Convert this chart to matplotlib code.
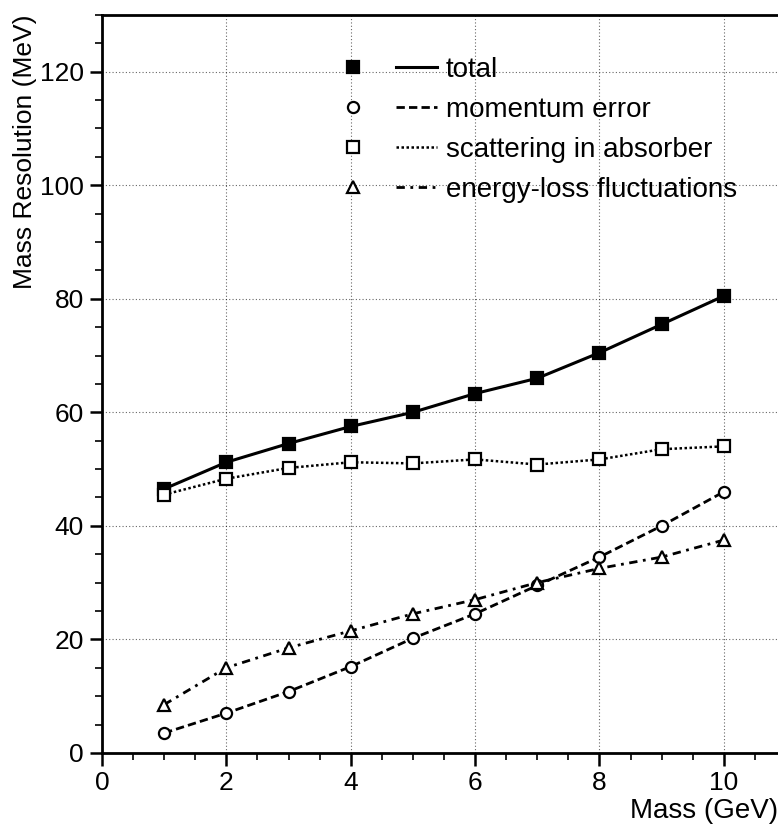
import matplotlib.pyplot as plt
import numpy as np
from matplotlib.ticker import MultipleLocator
from matplotlib.lines import Line2D
from matplotlib.legend_handler import HandlerTuple

plt.rcParams['font.family'] = ['Liberation Sans', 'DejaVu Sans']

# Data
mass = [1, 2, 3, 4, 5, 6, 7, 8, 9, 10]
total = [46.5, 51.2, 54.5, 57.5, 60.0, 63.3, 66.0, 70.5, 75.5, 80.5]
momentum = [3.5, 7.0, 10.8, 15.2, 20.2, 24.5, 29.5, 34.5, 40.0, 46.0]
scattering = [45.5, 48.3, 50.2, 51.2, 51.0, 51.7, 50.8, 51.7, 53.5, 54.0]
eloss = [8.5, 15.0, 18.5, 21.5, 24.5, 27.0, 30.0, 32.5, 34.5, 37.5]
labels = ['total', 'momentum error', 'scattering in absorber', 'energy-loss fluctuations']

styles = [
    dict(linestyle='-', linewidth=2.2, marker='s', markerfacecolor='black'),
    dict(linestyle=(0, (3, 1.5)), linewidth=2, marker='o', markerfacecolor='white'),
    dict(linestyle=(0, (1, 1)), linewidth=1.8, marker='s', markerfacecolor='white'),
    dict(linestyle=(0, (3, 2, 1, 2)), linewidth=2, marker='^', markerfacecolor='white'),
]

fig = plt.figure(figsize=(7.78, 8.31), dpi=100)
ax = fig.add_axes([0.131, 0.094, 0.869, 0.888])

handles = []
for ys, st in zip([total, momentum, scattering, eloss], styles):
    ax.plot(mass, ys, color='black', markersize=8, markeredgewidth=1.6, **st)
    mk = Line2D([], [], color='black', linestyle='none', marker=st['marker'],
                markerfacecolor=st['markerfacecolor'], markersize=8, markeredgewidth=1.6)
    ln = Line2D([], [], color='black', linestyle=st['linestyle'], linewidth=st['linewidth'])
    handles.append((mk, ln))

ax.set_xlim(0, 10.87)
ax.set_ylim(0, 130)
ax.xaxis.set_major_locator(MultipleLocator(2))
ax.xaxis.set_minor_locator(MultipleLocator(0.5))
ax.yaxis.set_major_locator(MultipleLocator(20))
ax.yaxis.set_minor_locator(MultipleLocator(5))
ax.set_yticks(range(0, 121, 20))

ax.tick_params(axis='both', which='major', direction='out', length=9, width=1.8,
               labelsize=19, pad=4)
ax.tick_params(axis='both', which='minor', direction='out', length=5, width=1.2)
ax.grid(True, which='major', color='black', linestyle=(0, (1, 2)), linewidth=0.8, alpha=0.6)

for s in ['left', 'bottom', 'top']:
    ax.spines[s].set_linewidth(2)
ax.spines['right'].set_visible(False)

ax.set_xlabel('Mass (GeV)', fontsize=20, loc='right', labelpad=2)
ax.set_ylabel('Mass Resolution (MeV)', fontsize=19, loc='top', labelpad=2)

ax.legend(handles, labels, loc='upper left', bbox_to_anchor=(0.303, 0.977), frameon=False,
          fontsize=20, handlelength=3.8, handletextpad=0.3, labelspacing=0.5,
          handler_map={tuple: HandlerTuple(ndivide=None, pad=0.8)})

fig.savefig('out.png', dpi=100)
